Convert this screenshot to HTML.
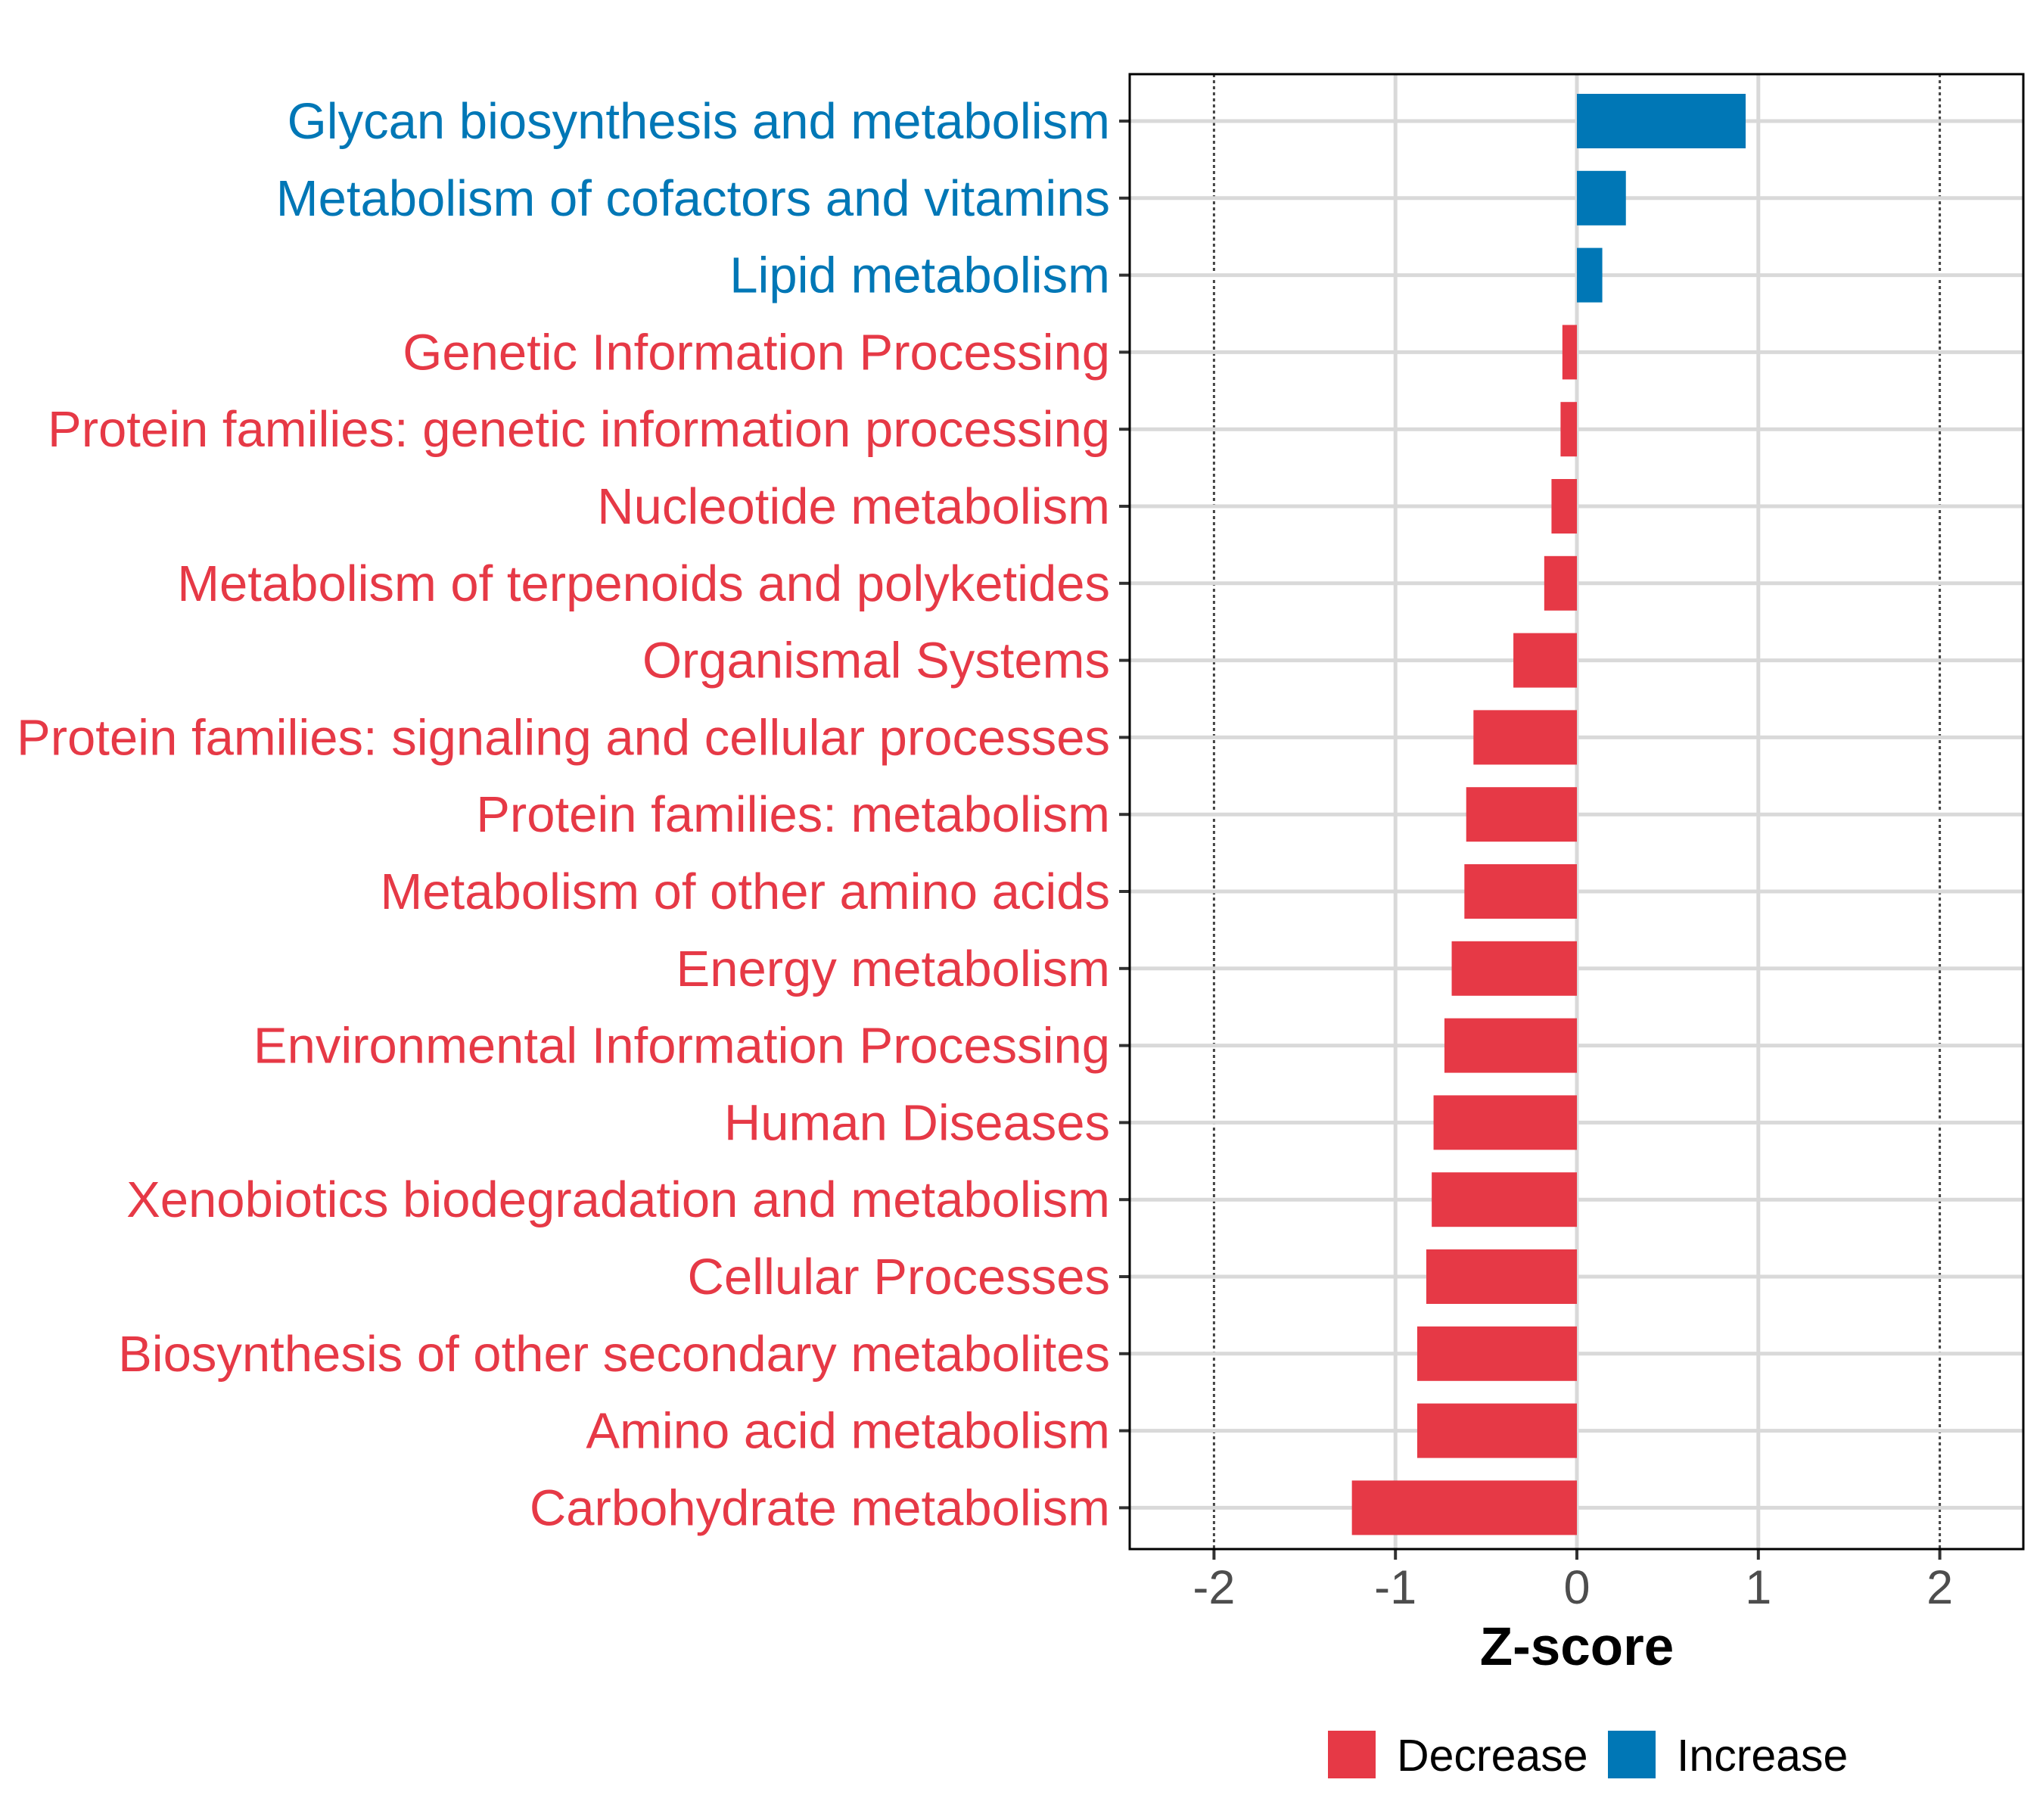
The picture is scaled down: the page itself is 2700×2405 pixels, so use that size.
<!DOCTYPE html>
<html><head><meta charset="utf-8"><style>
body{margin:0;background:#fff}
svg text{font-family:"Liberation Sans",sans-serif}
</style></head><body>
<svg id="chart" width="2700" height="2400" xmlns="http://www.w3.org/2000/svg">
<rect width="2700" height="2400" fill="#fff"/>
<g id="grid"></g><g id="bars"></g><g id="axes"></g>
</svg>
<script>
const categories = ["Glycan biosynthesis and metabolism","Metabolism of cofactors and vitamins","Lipid metabolism","Genetic Information Processing","Protein families: genetic information processing","Nucleotide metabolism","Metabolism of terpenoids and polyketides","Organismal Systems","Protein families: signaling and cellular processes","Protein families: metabolism","Metabolism of other amino acids","Energy metabolism","Environmental Information Processing","Human Diseases","Xenobiotics biodegradation and metabolism","Cellular Processes","Biosynthesis of other secondary metabolites","Amino acid metabolism","Carbohydrate metabolism"];
const zscores = [0.93,0.27,0.14,-0.08,-0.09,-0.14,-0.18,-0.35,-0.57,-0.61,-0.62,-0.69,-0.73,-0.79,-0.80,-0.83,-0.88,-0.88,-1.24];
const xTicks = [-2,-1,0,1,2];
const xTickLabels = ["-2","-1","0","1","2"];

const NS="http://www.w3.org/2000/svg";
const L=1493,R=2674,T=98,B=2047;
const x=v=>2084+v*239.8;
const y=i=>160+i*101.8;
const RED="#E63946",BLUE="#0077B6";
function mk(tag,attrs,parent,text){const e=document.createElementNS(NS,tag);for(const k in attrs)e.setAttribute(k,attrs[k]);if(text!==undefined)e.textContent=text;parent.appendChild(e);return e;}
const grid=document.getElementById('grid'),bars=document.getElementById('bars'),axes=document.getElementById('axes'),svg=document.getElementById('chart');

xTicks.forEach((t,j)=>{
  if(Math.abs(t)===2){
    const g=mk('line',{x1:x(t),x2:x(t),y1:T,y2:B,stroke:'#444','stroke-width':3,'stroke-dasharray':'4 4'},grid);
    
    
  } else {
    const g=mk('line',{x1:x(t),x2:x(t),y1:T,y2:B,stroke:'#d9d9d9','stroke-width':5},grid);
    
    
  }
  const tk=mk('line',{x1:x(t),x2:x(t),y1:B,y2:B+14,stroke:'#333','stroke-width':4},axes);
  
  
  const tl=mk('text',{x:x(t),y:B+72,'text-anchor':'middle','font-size':63,fill:'#4d4d4d'},axes,xTickLabels[j]);
  
  
});
categories.forEach((c,i)=>{
  const gl=mk('line',{x1:L,x2:R,y1:y(i),y2:y(i),stroke:'#d9d9d9','stroke-width':5},grid);
  
  
  const v=zscores[i],col=v>=0?BLUE:RED;
  const b=mk('rect',{x:Math.min(x(0),x(v)),y:y(i)-36,width:Math.abs(x(v)-x(0)),height:72,fill:col},bars);
  
  
  const tk=mk('line',{x1:L-14,x2:L,y1:y(i),y2:y(i),stroke:'#333','stroke-width':4},axes);
  
  
  const tl=mk('text',{x:L-26,y:y(i)+23,'text-anchor':'end','font-size':67,fill:col},axes,c);
  
  
});
const fr=mk('rect',{x:L,y:T,width:R-L,height:B-T,fill:'none',stroke:'#000','stroke-width':3},axes);


const xt=mk('text',{x:x(0),y:2200,'text-anchor':'middle','font-size':71,'font-weight':'bold',fill:'#000'},axes,'Z-score');


const lg=mk('g',{},svg);


[[1755,RED,1846,'Decrease'],[2125,BLUE,2216,'Increase']].forEach(([sx,c,tx,lab])=>{
  const r=mk('rect',{x:sx,y:2287,width:63,height:63,fill:c},lg);
  
  
  const t=mk('text',{x:tx,y:2340,'font-size':59,fill:'#000'},lg,lab);
  
  
});
</script>
</body></html>
